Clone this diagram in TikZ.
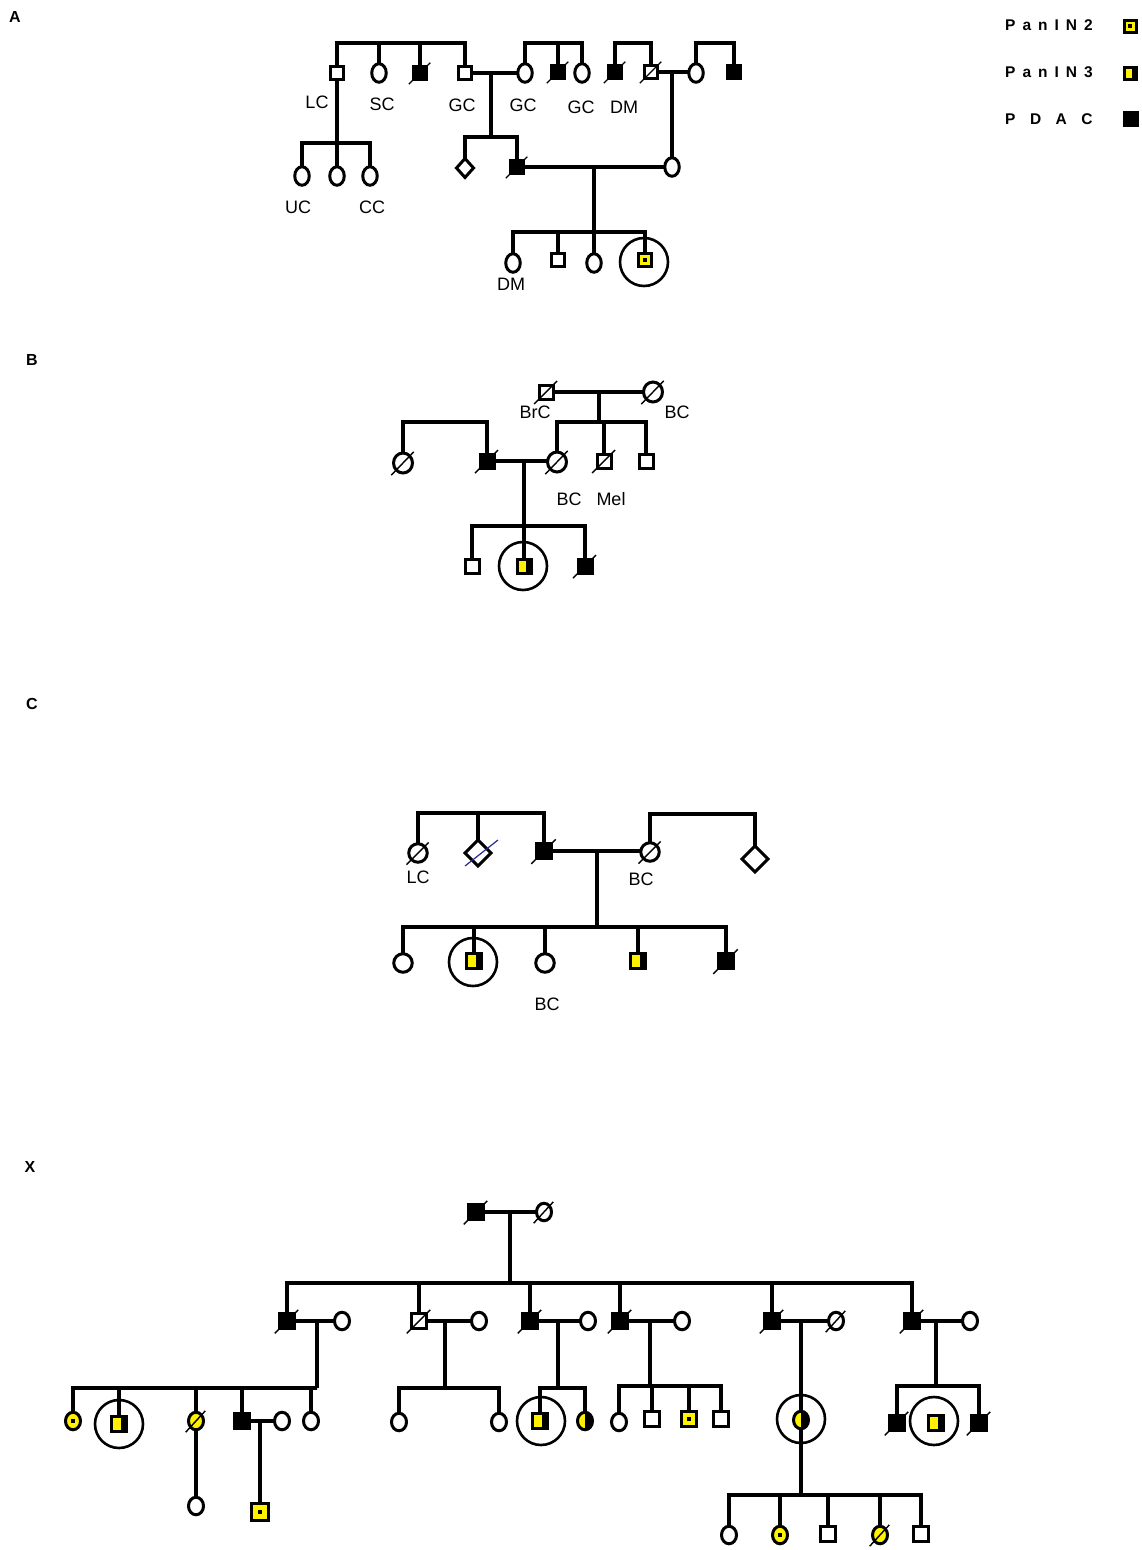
\documentclass[tikz,border=0pt]{standalone}
\usepackage{fontspec}
\setmainfont{Liberation Sans}
\usetikzlibrary{shapes.geometric}
\begin{document}
\begin{tikzpicture}[x=1pt,y=-1pt,
  base/.style={draw=black,line width=3pt,inner sep=0pt,outer sep=0pt},
  sq/.style={base,rectangle,minimum size=\sqs},
  ci/.style={base,ellipse,minimum width=\ciw,minimum height=\cih},
  dm/.style={base,diamond,minimum width=\dms,minimum height=\dmh},
  aff/.style={fill=black},
  yl/.style={fill=yellow},
  p2/.style={fill=yellow,path picture={\fill[black] ([shift={(-2.2pt,-2.2pt)}]path picture bounding box.center) rectangle ([shift={(2.2pt,2.2pt)}]path picture bounding box.center);}},
  p3/.style={fill=yellow,path picture={\fill[black] ([xshift=1.5pt]path picture bounding box.north) rectangle (path picture bounding box.south east);}},
  hf/.style={fill=yellow,path picture={\fill[black] (path picture bounding box.north) rectangle (path picture bounding box.south east);}},
  slashl/.style={draw=black,line width=1.4pt},
  dec/.style={append after command={([shift={(-5pt,-5pt)}]\tikzlastnode.south west) edge[slashl] ([shift={(4pt,4pt)}]\tikzlastnode.north east)}},
  pb/.style={draw=black,line width=2.6pt,circle,minimum size=48pt,inner sep=0pt},
  ln/.style={line width=3.3pt},
  lbl/.style={font=\fontsize{18}{20}\selectfont,inner sep=0pt},
  plet/.style={font=\bfseries\fontsize{16}{17}\selectfont,inner sep=0pt},
  lgt/.style={font=\bfseries\fontsize{15.5}{16}\selectfont,inner sep=0pt,anchor=west}
]
\fill[white] (0,0) rectangle (1141,1550);
\useasboundingbox (0,0) rectangle (1141,1550);

% ---------- panel letters ----------
\node[plet] (LA) at (15,17) {A};
\node[plet] (LB) at (32,360) {B};
\node[plet] (LC) at (32,704) {C};
\node[plet] (LX) at (30,1167) {X};

% ---------- legend ----------
\def\sqs{12pt}
\node[lgt] (lg1t) at (1005,25) {P\hspace{7pt}a\hspace{7pt}n\hspace{7pt}I\hspace{7pt}N\hspace{7pt}2};
\node[lgt] (lg2t) at (1005,72) {P\hspace{7pt}a\hspace{7pt}n\hspace{7pt}I\hspace{7pt}N\hspace{7pt}3};
\node[lgt] (lg3t) at (1005,119) {P\hspace{14.5pt}D\hspace{14.5pt}A\hspace{14.5pt}C};
\node[sq,p2] (lg1) at (1130,26) {};
\node[sq,p3] (lg2) at (1130,73) {};
\node[sq,aff,minimum size=13pt] (lg3) at (1131,119) {};

% ================= PANEL A =================
\def\sqs{12.5pt}\def\ciw{14.5pt}\def\cih{18.5pt}\def\dms{17pt}\def\dmh{19pt}
\node[sq] (a1) at (337,73) {};
\node[ci] (a2) at (379,73) {};
\node[sq,aff,dec] (a3) at (420,73) {};
\node[sq] (a4) at (465,73) {};
\node[ci] (a5) at (525,73) {};
\node[sq,aff,dec] (a6) at (558,72) {};
\node[ci] (a7) at (582,73) {};
\node[sq,aff,dec] (a8) at (615,72) {};
\node[sq,dec] (a9) at (651,72) {};
\node[ci] (a10) at (696,73) {};
\node[sq,aff] (a11) at (734,72) {};
\node[dm] (a12) at (465,168) {};
\node[sq,aff,dec] (a13) at (517,167) {};
\node[ci] (a14) at (672,167) {};
\node[ci] (a15) at (302,176) {};
\node[ci] (a16) at (337,176) {};
\node[ci] (a17) at (370,176) {};
\node[ci] (a18) at (513,263) {};
\node[sq] (a19) at (558,260) {};
\node[ci] (a20) at (594,263) {};
\node[sq,p2] (a21) at (645,260) {};
\node[pb] (pA) at (644,262) {};

\coordinate (tA1) at (400,43);
\coordinate (tA2) at (550,43);
\coordinate (tA3) at (630,43);
\coordinate (tA4) at (715,43);
\coordinate (mA1) at (491,73);
\coordinate (sA2) at (491,137);
\coordinate (mA2) at (672,72);
\coordinate (sA1) at (337,143);
\coordinate (mA3) at (594,167);
\coordinate (sA3) at (594,232);

\draw[ln] (a1.north) |- (tA1) -| (a4.north);
\draw[ln] (a2.north |- tA1) -- (a2.north);
\draw[ln] (a3.north |- tA1) -- (a3.north);
\draw[ln] (a5.north) |- (tA2) -| (a7.north);
\draw[ln] (a6.north |- tA2) -- (a6.north);
\draw[ln] (a8.north) |- (tA3) -| (a9.north);
\draw[ln] (a10.north) |- (tA4) -| (a11.north);
\draw[ln] (a4.east) -- (a5.west);
\draw[ln] (a9.east) -- (a9.east -| a10.west);
\draw[ln] (mA1) -- (sA2);
\draw[ln] (a12.north) |- (sA2) -| (a13.north);
\draw[ln] (mA2) -- (a14.north);
\draw[ln] (a1.south) -- (sA1);
\draw[ln] (a15.north) |- (sA1) -| (a17.north);
\draw[ln] (a16.north |- sA1) -- (a16.north);
\draw[ln] (a13.east) -- (a13.east -| a14.west);
\draw[ln] (mA3) -- (sA3);
\draw[ln] (a18.north) |- (sA3) -| (a21.north);
\draw[ln] (a19.north |- sA3) -- (a19.north);
\draw[ln] (a20.north |- sA3) -- (a20.north);

\node[lbl] (tA_LC) at (317,102) {LC};
\node[lbl] (tA_SC) at (382,104) {SC};
\node[lbl] (tA_GC1) at (462,105) {GC};
\node[lbl] (tA_GC2) at (523,105) {GC};
\node[lbl] (tA_GC3) at (581,107) {GC};
\node[lbl] (tA_DM1) at (624,107) {DM};
\node[lbl] (tA_UC) at (298,207) {UC};
\node[lbl] (tA_CC) at (372,207) {CC};
\node[lbl] (tA_DM2) at (511,284) {DM};

% ================= PANEL B =================
\def\sqs{14pt}\def\ciw{19pt}\def\cih{20pt}
\node[sq,dec] (b1) at (546,392) {};
\node[ci,dec] (b2) at (653,392) {};
\node[ci,dec] (b3) at (557,462) {};
\node[sq,dec] (b4) at (604,461) {};
\node[sq] (b5) at (646,461) {};
\node[ci,dec] (b6) at (403,463) {};
\node[sq,aff,dec] (b7) at (487,461) {};
\node[sq] (b8) at (472,566) {};
\node[sq,p3] (b9) at (524,566) {};
\node[sq,aff,dec] (b10) at (585,566) {};
\node[pb] (pB) at (523,566) {};

\coordinate (mB1) at (599,392);
\coordinate (sB1) at (599,422);
\coordinate (tB1) at (445,422);
\coordinate (mB2) at (524,461);
\coordinate (sB2) at (524,526);

\draw[ln] (b1.east) -- (b2.west);
\draw[ln] (mB1) -- (sB1);
\draw[ln] (b3.north) |- (sB1) -| (b5.north);
\draw[ln] (b4.north |- sB1) -- (b4.north);
\draw[ln] (b6.north) |- (tB1) -| (b7.north);
\draw[ln] (b7.east) -- (b7.east -| b3.west);
\draw[ln] (mB2) -- (sB2);
\draw[ln] (b8.north) |- (sB2) -| (b10.north);
\draw[ln] (b9.north |- sB2) -- (b9.north);

\node[lbl] (tB_BrC) at (535,412) {BrC};
\node[lbl] (tB_BC1) at (677,412) {BC};
\node[lbl] (tB_BC2) at (569,499) {BC};
\node[lbl] (tB_Mel) at (611,499) {Mel};

% ================= PANEL C =================
\def\sqs{15.5pt}\def\ciw{18.5pt}\def\cih{18.5pt}\def\dms{26pt}\def\dmh{26pt}
\node[ci,dec] (c1) at (418,853) {};
\node[dm] (c2) at (478,853) {};
\node[sq,aff,dec] (c3) at (544,851) {};
\node[ci,dec] (c4) at (650,852) {};
\node[dm] (c5) at (755,859) {};
\node[ci] (c6) at (403,963) {};
\node[sq,p3] (c7) at (474,961) {};
\node[ci] (c8) at (545,963) {};
\node[sq,p3] (c9) at (638,961) {};
\node[sq,aff,dec] (c10) at (726,961) {};
\node[pb] (pC) at (473,962) {};

\coordinate (tC1) at (480,813);
\coordinate (tC2) at (700,814);
\coordinate (mC) at (597,851);
\coordinate (sC) at (597,927);

\draw[ln] (c1.north) |- (tC1) -| (c3.north);
\draw[ln] (c2.north |- tC1) -- (c2.north);
\draw[ln] (c4.north) |- (tC2) -| (c5.north);
\draw[ln] (c3.east) -- (c3.east -| c4.west);
\draw[ln] (mC) -- (sC);
\draw[ln] (c6.north) |- (sC) -| (c10.north);
\draw[ln] (c7.north |- sC) -- (c7.north);
\draw[ln] (c8.north |- sC) -- (c8.north);
\draw[ln] (c9.north |- sC) -- (c9.north);
\draw[draw={rgb,255:red,40;green,40;blue,150},line width=1.2pt] ([shift={(-13pt,-13pt)}]c2.center) -- ([shift={(20pt,13pt)}]c2.center);

\node[lbl] (tC_LC) at (418,877) {LC};
\node[lbl] (tC_BC1) at (641,879) {BC};
\node[lbl] (tC_BC2) at (547,1004) {BC};

% ================= PANEL X =================
\def\sqs{14.5pt}\def\ciw{15pt}\def\cih{17.5pt}
\node[sq,aff,dec] (x1) at (476,1212) {};
\node[ci,dec] (x2) at (544,1212) {};
\node[sq,aff,dec] (x3) at (287,1321) {};
\node[ci] (x4) at (342,1321) {};
\node[sq,dec] (x5) at (419,1321) {};
\node[ci] (x6) at (479,1321) {};
\node[sq,aff,dec] (x7) at (530,1321) {};
\node[ci] (x8) at (588,1321) {};
\node[sq,aff,dec] (x9) at (620,1321) {};
\node[ci] (x10) at (682,1321) {};
\node[sq,aff,dec] (x11) at (772,1321) {};
\node[ci,dec] (x12) at (836,1321) {};
\node[sq,aff,dec] (x13) at (912,1321) {};
\node[ci] (x14) at (970,1321) {};
% family 1
\node[ci,p2] (x15) at (73,1421) {};
\node[sq,p3] (x16) at (119,1424) {};
\node[ci,yl,dec] (x17) at (196,1421) {};
\node[sq,aff] (x18) at (242,1421) {};
\node[ci] (x19) at (282,1421) {};
\node[ci] (x20) at (311,1421) {};
\node[ci] (x21) at (196,1506) {};
\node[sq,p2,minimum size=16.5pt] (x22) at (260,1512) {};
\node[pb] (pX1) at (119,1424) {};
% family 2
\node[ci] (x23) at (399,1422) {};
\node[ci] (x24) at (499,1422) {};
% family 3
\node[sq,p3] (x25) at (540,1421) {};
\node[ci,hf] (x26) at (585,1421) {};
\node[pb] (pX2) at (541,1421) {};
% family 4
\node[ci] (x27) at (619,1422) {};
\node[sq] (x28) at (652,1419) {};
\node[sq,p2] (x29) at (689,1419) {};
\node[sq] (x30) at (721,1419) {};
% family 5
\node[ci,hf] (x31) at (801,1420) {};
\node[pb] (pX3) at (801,1419) {};
\node[ci] (x32) at (729,1535) {};
\node[ci,p2] (x33) at (780,1535) {};
\node[sq] (x34) at (828,1534) {};
\node[ci,yl,dec] (x35) at (880,1535) {};
\node[sq] (x36) at (921,1534) {};
% family 6
\node[sq,aff,dec] (x37) at (897,1423) {};
\node[sq,p3] (x38) at (936,1423) {};
\node[sq,aff,dec] (x39) at (979,1423) {};
\node[pb] (pX4) at (934,1421) {};

\coordinate (mX) at (510,1212);
\coordinate (sX) at (510,1283);
\coordinate (mX1) at (317,1321);
\coordinate (sX1) at (317,1388);
\coordinate (mX2) at (445,1321);
\coordinate (sX2) at (445,1388);
\coordinate (mX3) at (558,1321);
\coordinate (sX3) at (558,1388);
\coordinate (mX4) at (650,1321);
\coordinate (sX4) at (650,1386);
\coordinate (mX5) at (801,1321);
\coordinate (sX5) at (801,1495);
\coordinate (mX6) at (936,1321);
\coordinate (sX6) at (936,1386);
\coordinate (mX7) at (260,1421);

\draw[ln] (x1.east) -- (x2.west);
\draw[ln] (mX) -- (sX);
\draw[ln] (x3.north) |- (sX) -| (x13.north);
\foreach \n in {x5,x7,x9,x11} \draw[ln] (\n.north |- sX) -- (\n.north);
\draw[ln] (x3.east) -- (x4.west);
\draw[ln] (x5.east) -- (x6.west);
\draw[ln] (x7.east) -- (x8.west);
\draw[ln] (x9.east) -- (x10.west);
\draw[ln] (x11.east) -- (x12.west);
\draw[ln] (x13.east) -- (x14.west);
\draw[ln] (mX1) -- (sX1);
\draw[ln] (mX2) -- (sX2);
\draw[ln] (mX3) -- (sX3);
\draw[ln] (mX4) -- (sX4);
\draw[ln] (mX5) -- (x31.north);
\draw[ln] (mX6) -- (sX6);
% family 1
\draw[ln] (x15.north) |- (sX1) -| (x20.north);
\foreach \n in {x16,x17,x18} \draw[ln] (\n.north |- sX1) -- (\n.north);
\draw[ln] (x18.east) -- (x19.west);
\draw[ln] (mX7) -- (x22.north);
\draw[ln] (x17.south) -- (x21.north);
% family 2
\draw[ln] (x23.north) |- (sX2) -| (x24.north);
% family 3
\draw[ln] (x25.north) |- (sX3) -| (x26.north);
% family 4
\draw[ln] (x27.north) |- (sX4) -| (x30.north);
\foreach \n in {x28,x29} \draw[ln] (\n.north |- sX4) -- (\n.north);
% family 5
\draw[ln] (x31.south) -- (sX5);
\draw[ln] (x32.north) |- (sX5) -| (x36.north);
\foreach \n in {x33,x34,x35} \draw[ln] (\n.north |- sX5) -- (\n.north);
% family 6
\draw[ln] (x37.north) |- (sX6) -| (x39.north);
\end{tikzpicture}
\end{document}
